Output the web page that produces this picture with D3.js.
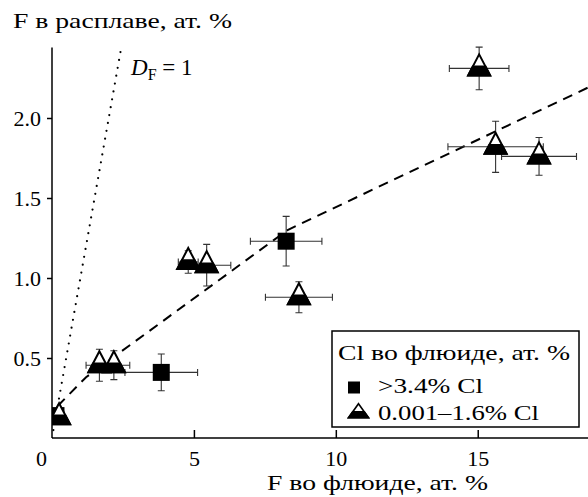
<!DOCTYPE html>
<html>
<head>
<meta charset="utf-8">
<script src="https://cdn.jsdelivr.net/npm/d3@7"></script>
<style>
  body { margin: 0; background: #fff; }
</style>
</head>
<body>
<div id="chart"></div>
<script>
// squares: >3.4% Cl
const sqX = [0.14, 3.85, 8.25]
const sqY = [0.14, 0.41, 1.23]
const sqXErr = [0.1, 1.28, 1.26]
const sqYErr = [0.03, 0.115, 0.155]

// triangles: 0.001-1.6% Cl
const triX = [0.25, 1.67, 2.18, 4.8, 5.45, 8.7, 15.05, 15.63, 17.16]
const triY = [0.13, 0.455, 0.455, 1.1, 1.08, 0.88, 2.31, 1.82, 1.76]
const triXErr = [0.1, 0.47, 0.56, 0.35, 0.85, 1.18, 1.05, 1.68, 1.32]
const triYErr = [0.04, 0.1, 0.09, 0.07, 0.13, 0.097, 0.133, 0.16, 0.118]

// dashed trend and D_F = 1 line
const fitX = [0.2, 1.2, 8.3, 19]
const fitY = [0.2, 0.38, 1.3, 2.2]
const dfX = [0, 2.44]
const dfY = [0, 2.44]

const xTicks = [0, 5, 10, 15]
const yTicks = [0.5, 1.0, 1.5, 2.0]

const FONT = "Liberation Serif, DejaVu Serif, serif"
const w = 588, h = 497
const x = d3.scaleLinear().domain([0, 18.85]).range([52, 587])
const y = d3.scaleLinear().domain([0, 2.44]).range([438, 47.6])

const svg = d3.select('#chart').append('svg')
    .attr('width', w)
    .attr('height', h)
    .attr('font-family', FONT)

svg.append('clipPath').attr('id', 'plot')
    .append('rect')
    .attr('x', x(0)).attr('y', 0)
    .attr('width', w - x(0)).attr('height', y(0))

// text stretched to the width it has in the original
let label = (g, str, tx, ty, len, size) => g.append('text').text(str)
    .attr('x', tx).attr('y', ty).attr('font-size', size)
    .attr('textLength', len).attr('lengthAdjust', 'spacingAndGlyphs')

// axes
const xAxis = d3.axisBottom(x).tickValues(xTicks).tickSizeInner(-8).tickSizeOuter(0).tickPadding(12)
    .tickFormat(d3.format('d'))
const gx = svg.append('g').attr('transform', 'translate(0,' + y(0) + ')').call(xAxis)
gx.attr('font-family', FONT).attr('font-size', 22)
gx.select('.domain').attr('d', 'M' + x(0) + ',0H' + w).attr('stroke-width', 1.5)
gx.selectAll('line').attr('stroke-width', 1.5)
gx.selectAll('.tick').filter(d => d === 0).select('line').remove()
gx.selectAll('.tick').filter(d => d === 0).select('text').attr('dx', -11)

const yAxis = d3.axisLeft(y).tickValues(yTicks).tickSizeInner(5).tickSizeOuter(0).tickPadding(6)
    .tickFormat(d3.format('.1f'))
const gy = svg.append('g').attr('transform', 'translate(' + x(0) + ',0)').call(yAxis)
gy.attr('font-family', FONT).attr('font-size', 22)
gy.select('.domain').attr('d', 'M0,' + y(0) + 'V' + y(2.44)).attr('stroke-width', 1.5)
gy.selectAll('line').attr('stroke-width', 1.5)

// titles
label(svg, 'F в расплаве, ат. %', 13, 28, 219, 21)
label(svg, 'F во флюиде, ат. %', 267, 490, 221, 21)

const line = d3.line().x(d => x(d[0])).y(d => y(d[1]))
const plot = svg.append('g').attr('clip-path', 'url(#plot)')

plot.append('path')
    .attr('d', line(dfX.map((v, i) => [v, dfY[i]])))
    .attr('fill', 'none').attr('stroke', '#000').attr('stroke-width', 2.2)
    .attr('stroke-linecap', 'round').attr('stroke-dasharray', '0,8')

plot.append('path')
    .attr('d', line(fitX.map((v, i) => [v, fitY[i]])))
    .attr('fill', 'none').attr('stroke', '#000').attr('stroke-width', 2)
    .attr('stroke-dasharray', '10,7')

const dl = svg.append('text').attr('x', 131).attr('y', 75).attr('font-size', 23)
dl.append('tspan').text('D').attr('font-style', 'italic')
dl.append('tspan').text('F').attr('font-size', 16).attr('dy', 5)
dl.append('tspan').text(' = 1').attr('dy', -5)

// error bars
const cap = 3.5
let errBars = (g, xs, ys, xe, ye) => {
    xs.forEach((v, i) => {
        const cx = x(v), cy = y(ys[i])
        const x0 = x(v - xe[i]), x1 = x(v + xe[i])
        const y0 = y(ys[i] - ye[i]), y1 = y(ys[i] + ye[i])
        const p = 'M' + x0 + ',' + cy + 'H' + x1 +
            'M' + x0 + ',' + (cy - cap) + 'V' + (cy + cap) +
            'M' + x1 + ',' + (cy - cap) + 'V' + (cy + cap) +
            'M' + cx + ',' + y0 + 'V' + y1 +
            'M' + (cx - cap) + ',' + y0 + 'H' + (cx + cap) +
            'M' + (cx - cap) + ',' + y1 + 'H' + (cx + cap)
        g.append('path').attr('d', p).attr('fill', 'none')
            .attr('stroke', '#333').attr('stroke-width', 1.1)
    })
}
errBars(plot, sqX, sqY, sqXErr, sqYErr)
errBars(plot, triX, triY, triXErr, triYErr)

// markers
let drawSquare = (g, cx, cy, s) => {
    g.append('rect').attr('x', cx - s / 2).attr('y', cy - s / 2)
        .attr('width', s).attr('height', s).attr('fill', '#000')
}
let drawTriangle = (g, cx, cy, hw, th, sw) => {
    const top = cy - th * 2 / 3, base = cy + th / 3
    const cut = base - th * 0.42
    const cw = hw * (cut - top) / th
    g.append('path')
        .attr('d', 'M' + cx + ',' + top + 'L' + (cx + hw) + ',' + base + 'L' + (cx - hw) + ',' + base + 'Z')
        .attr('fill', '#fff').attr('stroke', '#000').attr('stroke-width', sw)
    g.append('path')
        .attr('d', 'M' + (cx - cw) + ',' + cut + 'L' + (cx + cw) + ',' + cut + 'L' + (cx + hw) + ',' + base + 'L' + (cx - hw) + ',' + base + 'Z')
        .attr('fill', '#000').attr('stroke', '#000').attr('stroke-width', sw)
}

sqX.forEach((v, i) => drawSquare(plot, x(v), y(sqY[i]), 17))
triX.forEach((v, i) => drawTriangle(plot, x(v), y(triY[i]), 11, 21, 2))

// legend
const lg = svg.append('g')
lg.append('rect').attr('x', 332).attr('y', 331).attr('width', 247).attr('height', 96)
    .attr('fill', '#fff').attr('stroke', '#000').attr('stroke-width', 1.5)
label(lg, 'Cl во флюиде, ат. %', 338, 360, 232, 21)
drawSquare(lg, 354, 387.5, 12)
label(lg, '>3.4% Cl', 378, 393, 105, 21)
drawTriangle(lg, 358.5, 413, 10, 14, 1.6)
label(lg, '0.001–1.6% Cl', 378, 420, 161, 21)
</script>
</body>
</html>
